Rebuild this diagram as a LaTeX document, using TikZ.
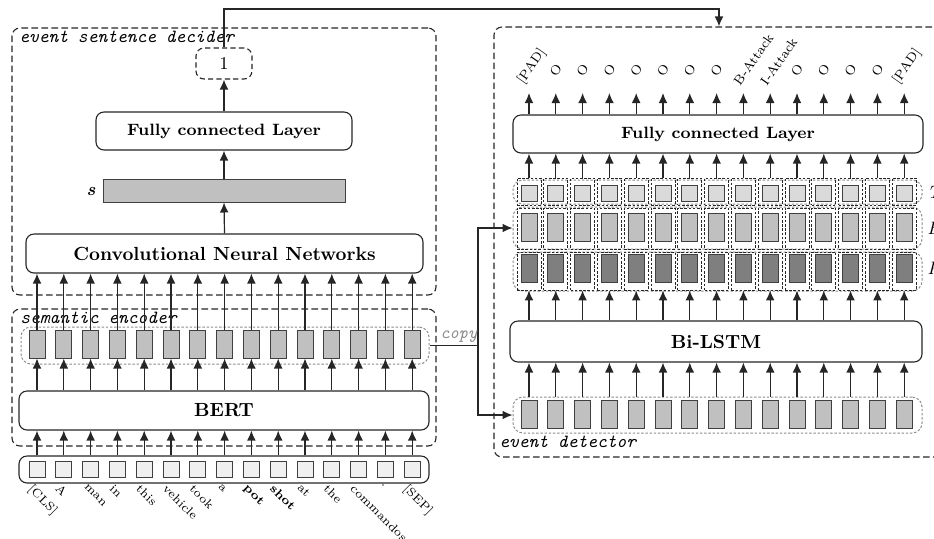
\documentclass[tikz,border=0pt]{standalone}
\usepackage{fontspec}
\usetikzlibrary{arrows.meta}
\definecolor{lightcell}{HTML}{DADADA}
\definecolor{midcell}{HTML}{C0C0C0}
\definecolor{darkcell}{HTML}{7F7F7F}
\definecolor{inputcell}{HTML}{F0F0F0}
\definecolor{edgegray}{HTML}{404040}
\definecolor{copygray}{HTML}{8C8C8C}
\newcommand\bigfont{\fontsize{9.5}{11}\selectfont\bfseries}
\newcommand\fcfont{\fontsize{8.2}{10}\selectfont\bfseries}
\newcommand\grpfont{\fontsize{9.3}{11}\selectfont\ttfamily\itshape}
\newcommand\tokfont{\fontsize{6}{7}\selectfont}
\newcommand\tagfont{\fontsize{6.5}{8}\selectfont}
\tikzset{
  layer/.style={draw=black!85, line width=0.55pt, rounded corners=4pt, fill=white, inner sep=0pt},
  grp/.style={draw=black!85, line width=0.55pt, dash pattern=on 3.3pt off 1.7pt, rounded corners=4pt, inner sep=0pt},
  dotgrp/.style={draw=black!45, line width=0.5pt, dash pattern=on 1.2pt off 0.9pt, rounded corners=5pt, inner sep=0pt},
  celldash/.style={draw=black!85, line width=0.45pt, dash pattern=on 1.3pt off 0.8pt, inner sep=0pt, minimum width=12pt},
  vec/.style={draw=edgegray, line width=0.5pt, inner sep=0pt, minimum width=8pt, minimum height=14pt},
  arr/.style={draw=black!85, line width=0.6pt, -{Latex[length=5pt,width=4.4pt]}},
  link/.style={draw=black!85, line width=0.6pt},
  grplabel/.style={font=\grpfont, inner sep=0pt, anchor=base west},
  tok/.style={font=\tokfont, inner sep=0pt, rotate=-45, anchor=north west},
  tag/.style={font=\tagfont, inner sep=0pt, rotate=55, anchor=south west},
}
\begin{document}
\begin{tikzpicture}[x=0.5pt,y=-0.5pt]
\useasboundingbox (0,0) rectangle (934,538);

% ---------- group frames ----------
\node[grp, minimum width=212pt, minimum height=133.5pt] (esd) at (224,161.5) {};
\node[grp, minimum width=212pt, minimum height=68.5pt] (sem) at (224,377.5) {};
\node[grp, minimum width=233pt, minimum height=215pt] (det) at (727,242) {};
\node[grplabel] (esdlab) at (19,42) {event sentence decider};
\node[grplabel] (semlab) at (20,323) {semantic encoder};
\node[grplabel] (detlab) at (499,447) {event detector};

% ---------- event sentence decider ----------
\node[layer, dash pattern=on 2.6pt off 1.6pt, minimum width=28pt, minimum height=15.5pt,
      font=\fontsize{9}{10}\selectfont] (one) at (224,63.5) {1};
\node[layer, font=\fcfont, minimum width=128pt, minimum height=19pt] (fcl) at (224,131) {Fully connected Layer};
\node[draw=edgegray, fill=midcell, line width=0.5pt, inner sep=0pt,
      minimum width=121pt, minimum height=11.5pt] (sbar) at (224,190.5) {};
\node[inner sep=0pt, font=\fontsize{9}{10}\selectfont] (slab) at (91,191) {\textbf{\textit{s}}};
\node[layer, font=\bigfont, minimum width=198.5pt, minimum height=19.5pt] (cnn) at (224.5,253.5) {Convolutional Neural Networks};
\draw[arr] (cnn.north) -- (sbar.south);
\draw[arr] (sbar.north) -- (fcl.south);
\draw[arr] (fcl.north) -- (one.south);

% ---------- semantic encoder ----------
\node[dotgrp, minimum width=204pt, minimum height=18.5pt] (enc) at (225,345.5) {};
\node[layer, font=\bigfont, minimum width=205pt, minimum height=19.5pt] (bert) at (224,410.5) {BERT};
\node[layer, minimum width=205pt, minimum height=13.5pt] (inp) at (224,469.5) {};

\foreach \w [count=\k from 0] in {{[CLS]},A,man,in,this,vehicle,took,a,\textbf{pot},\textbf{shot},at,the,commandos,.,{[SEP]}} {
  \pgfmathsetmacro\xl{37+26.8*\k}
  \node[vec, fill=midcell] (v\k) at (\xl,344) {};
  \node[vec, fill=inputcell, minimum height=8pt] (x\k) at (\xl,469) {};
  \draw[arr] (v\k.north) -- (v\k.north |- cnn.south);
  \draw[arr] (bert.north -| v\k) -- (v\k.south);
  \draw[arr] (inp.north -| x\k) -- (bert.south -| x\k);
  \node[tok] (w\k) at (\xl-3,483) {\w};
}

% ---------- event detector ----------
\node[layer, font=\fcfont, minimum width=205pt, minimum height=19pt] (fcr) at (718,134) {Fully connected Layer};
\node[dotgrp, minimum width=204.5pt, minimum height=12pt] (rowT) at (717.5,192) {};
\node[dotgrp, minimum width=204.5pt, minimum height=21pt] (rowE) at (717.5,228) {};
\node[dotgrp, minimum width=204.5pt, minimum height=19.5pt] (rowP) at (717.5,271.5) {};
\node[layer, font=\bigfont, minimum width=206pt, minimum height=20.5pt] (bi) at (716,341.5) {Bi-LSTM};
\node[dotgrp, minimum width=204.5pt, minimum height=18pt] (dgrp) at (717.5,415) {};

\foreach \k in {0,...,14} {
  \pgfmathsetmacro\xr{529+26.8*\k}
  \node[celldash, minimum height=13.5pt] (ct\k) at (\xr,191.5) {};
  \node[celldash, minimum height=20.5pt] (ce\k) at (\xr,228.5) {};
  \node[celldash, minimum height=19pt] (cp\k) at (\xr,271) {};
  \node[vec, fill=lightcell, minimum height=8pt] (t\k) at (\xr,193) {};
  \node[vec, fill=midcell] (e\k) at (\xr,227.5) {};
  \node[vec, fill=darkcell] (p\k) at (\xr,268.5) {};
  \node[vec, fill=midcell] (d\k) at (\xr,414) {};
  \coordinate (o\k) at (\xr,93);
  \draw[arr] (dgrp.north -| d\k) -- (bi.south -| d\k);
  \draw[arr] (bi.north -| d\k) -- (cp\k.south);
  \draw[arr] (ct\k.north) -- (fcr.south -| ct\k);
  \draw[arr] (fcr.north -| o\k) -- (o\k);
}

% output tags
\foreach \k/\t in {0/{[PAD]},8/B-Attack,9/I-Attack,14/{[PAD]}} {
  \pgfmathsetmacro\xr{529+26.8*\k}
  \node[tag] (tag\k) at (\xr-3,87) {\t};
}
\foreach \k in {1,...,7,10,11,12,13} {
  \pgfmathsetmacro\xr{529+26.8*\k}
  \node[font=\tagfont, inner sep=0pt, rotate=55] (tag\k) at (\xr,70) {O};
}

% row names at the right edge
\node[anchor=west, inner sep=0pt, font=\fontsize{9}{10}\selectfont\itshape] (nT) at (927,192) {T};
\node[anchor=west, inner sep=0pt, font=\fontsize{9}{10}\selectfont\itshape] (nE) at (927,228) {E};
\node[anchor=west, inner sep=0pt, font=\fontsize{9}{10}\selectfont\itshape] (nP) at (927,268) {P};

% ---------- links between the parts ----------
\coordinate (turn) at (719,9);
\draw[arr] (one.north) |- (turn) -- (turn |- det.north);
\coordinate (split) at (478,345.5);
\draw[link] (enc.east) -- (split);
\draw[arr] (split) |- (rowE.west);
\draw[arr] (split) |- (dgrp.west);
\node[grplabel, text=copygray, font=\fontsize{8.8}{10}\selectfont\ttfamily\itshape] (copylab) at (440,338) {copy};
\end{tikzpicture}
\end{document}
